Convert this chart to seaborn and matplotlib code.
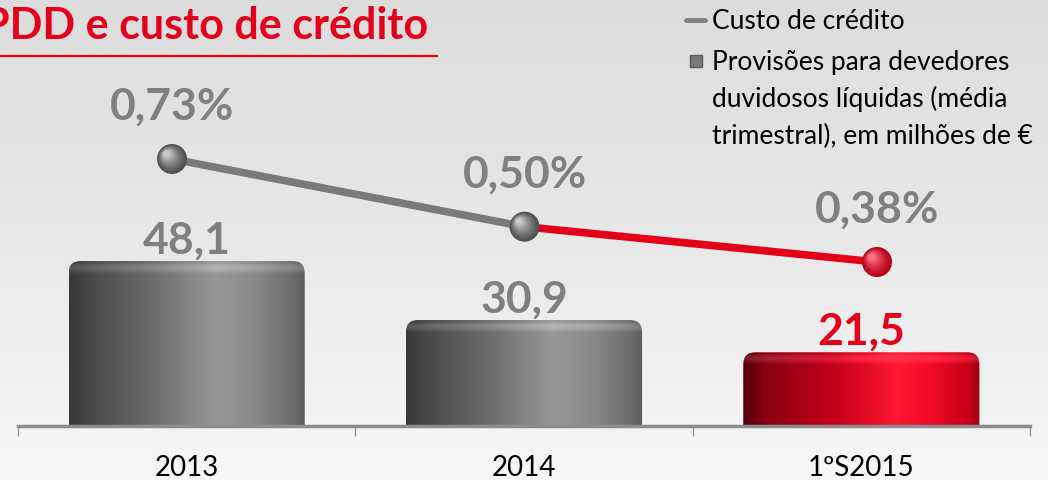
import numpy as np
import matplotlib
matplotlib.use("Agg")
import matplotlib.pyplot as plt
import matplotlib.transforms as mtransforms
from matplotlib.colors import LinearSegmentedColormap, to_rgb
from matplotlib.patches import FancyBboxPatch
import seaborn as sns

# data
periodos = ["2013", "2014", "1ºS2015"]
provisoes = [48.1, 30.9, 21.5]           # milhoes de euros (media trimestral)
custo_credito = [0.73, 0.50, 0.38]       # %
legenda_linha = "Custo de crédito"
legenda_barras = ["Provisões para devedores", "duvidosos líquidas (média",
                  "trimestral), em milhões de €"]

CINZA = "#808080"
VERMELHO = "#e2001a"

sns.set_theme(style="white")
plt.rcParams["font.family"] = ["Lato", "DejaVu Sans"]

W, H = 1048, 481
fig = plt.figure(figsize=(W / 100, H / 100), dpi=100)

# background: light grey -> almost white
bg = fig.add_axes([0, 0, 1, 1], zorder=-10)
grad = np.linspace(0, 1, 256)[:, None]
bg_cmap = LinearSegmentedColormap.from_list("bg", ["#dcdcdc", "#e8e8e8", "#f7f7f7"])
bg.imshow(grad, aspect="auto", cmap=bg_cmap, extent=[0, 1, 0, 1])
bg.axis("off")

rect = [18 / W, 54 / H, (1030 - 18) / W, 427 / H]
ax = fig.add_axes(rect)
ax.patch.set_alpha(0)

cores = [CINZA, CINZA, VERMELHO]
sns.barplot(x=periodos, y=provisoes, hue=periodos, palette=cores, width=0.7,
            legend=False, ax=ax)
ax.set_xlim(-0.5, 2.5)
ax.set_ylim(0, 124.5)

# shaded "cylinder" bars with rounded tops
grey_cmap = LinearSegmentedColormap.from_list("g", [
    (0.0, "#383838"), (0.1, "#4a4a4a"), (0.35, "#6c6c6c"), (0.62, "#979797"),
    (0.78, "#8a8a8a"), (0.95, "#6c6c6c"), (1.0, "#5c5c5c")])
red_cmap = LinearSegmentedColormap.from_list("r", [
    (0.0, "#55000c"), (0.1, "#8a0012"), (0.4, "#c8001a"), (0.65, "#ff1733"),
    (0.8, "#f00a28"), (0.95, "#c80018"), (1.0, "#a00012")])

px_x = (1030 - 18) / 3.0
px_y = 427 / 124.5
r_px = 12
for patch, cor in zip(ax.patches, cores):
    x0, w, h = patch.get_x(), patch.get_width(), patch.get_height()
    patch.set_visible(False)
    rx = r_px / px_x
    ry = r_px / px_y
    shape = FancyBboxPatch((x0, -ry), w, h + ry,
                           boxstyle=f"round,pad=0,rounding_size={rx}",
                           mutation_aspect=px_x / px_y,
                           transform=ax.transData, facecolor="none", edgecolor="none")
    ax.add_patch(shape)
    cmap = red_cmap if cor == VERMELHO else grey_cmap
    cols = cmap(np.linspace(0, 1, 200))[:, :3]
    nrow = 100
    img = np.repeat(cols[None, :, :], nrow, axis=0)
    # light rim near the top
    yy = np.linspace(h, -ry, nrow)
    dist = (h - yy) * px_y
    rim = np.exp(-((dist - 6) / 4) ** 2) * 0.12
    img = np.clip(img + rim[:, None, None], 0, 1)
    im = ax.imshow(img, extent=[x0, x0 + w, -ry, h], aspect="auto",
                   interpolation="bilinear", zorder=2)
    im.set_clip_path(shape)

ax.set_xlim(-0.5, 2.5)
ax.set_ylim(0, 124.5)

for i, v in enumerate(provisoes):
    ax.annotate(f"{v:.1f}".replace(".", ","), (i, v), xytext=(0, 6),
                textcoords="offset points", ha="center", va="baseline",
                fontsize=32, fontweight="bold",
                color=VERMELHO if cores[i] == VERMELHO else CINZA, zorder=5)

# axis styling
for s in ["top", "left", "right"]:
    ax.spines[s].set_visible(False)
ax.spines["bottom"].set_color("#8c8c8c")
ax.spines["bottom"].set_linewidth(2.5)
ax.set_yticks([])
ax.set_xticks([0, 1, 2])
ax.set_xticklabels(periodos)
ax.set_xticks([-0.5, 0.5, 1.5, 2.5], minor=True)
ax.tick_params(axis="x", which="major", length=0, pad=20, labelsize=20,
               labelcolor="#000000")
ax.tick_params(axis="x", which="minor", length=7, width=1, color="#9a9a9a",
               direction="out", bottom=True)
ax.set_xlabel("")
ax.set_ylabel("")

# cost of credit line (its own axis, as in the original)
ax2 = fig.add_axes(rect)
ax2.patch.set_alpha(0)
ax2.axis("off")
idx = np.arange(len(custo_credito))
sns.lineplot(x=idx[:2], y=custo_credito[:2], color="#7a7a7a", lw=5.5, ax=ax2,
             zorder=3)
sns.lineplot(x=idx[1:], y=custo_credito[1:], color=VERMELHO, lw=5.5, ax=ax2,
             zorder=3)
ax2.set_xlim(-0.437, 2.434)
ax2.set_ylim(-0.177, 1.2735)

# glossy spheres as markers
esferas = [("#505050", "#c8c8c8"), ("#505050", "#c8c8c8"), ("#b80016", "#ff7080")]
n_layers = 14
radius = 15
for i, v in enumerate(custo_credito):
    base, hi = esferas[i]
    b, hcol = np.array(to_rgb(base)), np.array(to_rgb(hi))
    for k in range(n_layers):
        f = 1 - 0.85 * k / n_layers
        t = (k / (n_layers - 1)) ** 1.3
        col = b * (1 - t) + hcol * t
        off = (1 - f) * radius * 0.45
        tr = mtransforms.offset_copy(ax2.transData, fig=fig, x=-off, y=off,
                                     units="dots")
        ax2.scatter([i], [v], s=(2 * radius * f * 0.72) ** 2, color=col,
                    edgecolors="none", transform=tr, zorder=4 + k * 0.01)
    ax2.annotate(f"{v:.2f}".replace(".", ",") + "%", (i, v), xytext=(0, 29),
                 textcoords="offset points", ha="center", va="baseline",
                 fontsize=32, fontweight="bold", color=CINZA, zorder=6)

# title with underline (cut at the left edge as in the slide)
fig.text(428 / W, 1 - 39 / H, "PDD e custo de crédito", ha="right",
         va="baseline", fontsize=31, fontweight="bold", color=VERMELHO)
fig.add_artist(plt.Line2D([0, 437 / W], [1 - 57 / H, 1 - 57 / H],
                          color=VERMELHO, lw=1.6))

# legend drawn by hand to keep the slide layout
fig.add_artist(plt.Line2D([686 / W, 705 / W], [1 - 21 / H, 1 - 21 / H],
                          color="#808080", lw=3.5))
fig.text(712 / W, 1 - 29 / H, legenda_linha, ha="left", va="baseline",
         fontsize=19, color="#000000")
fig.add_artist(plt.Line2D([696 / W], [1 - 62 / H], marker="s", markersize=8,
                          color="#7a7a7a", markeredgecolor="#5a5a5a"))
for j, linha in enumerate(legenda_barras):
    fig.text(712 / W, 1 - (70 + 37 * j) / H, linha, ha="left", va="baseline",
             fontsize=19, color="#000000")

fig.savefig("out.png", dpi=100)
